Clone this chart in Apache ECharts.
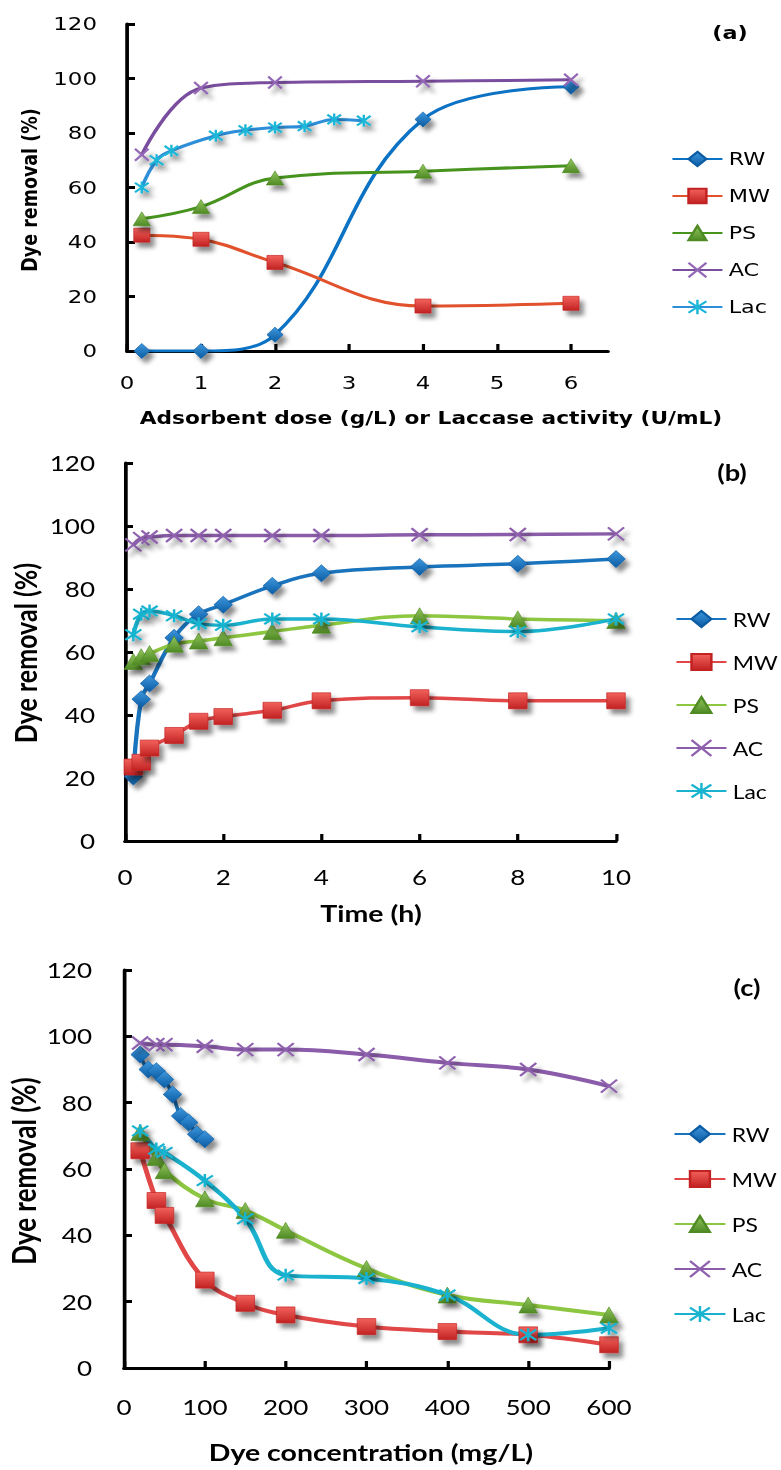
<!DOCTYPE html>
<html><head><meta charset="utf-8">
<script src="https://cdn.jsdelivr.net/npm/echarts@6/dist/echarts.min.js"></script>
<style>
html,body{margin:0;padding:0;background:#fff;overflow:hidden;width:781px;height:1470px;}
.p{position:absolute;left:0;transform-origin:0 0;}
</style></head><body>
<div id="pa" class="p"></div><div id="pb" class="p"></div><div id="pc" class="p"></div>
<script>
// ---------- data ----------
const seriesNames = ['RW', 'MW', 'PS', 'AC', 'Lac'];

// (a) adsorbent dose (g/L) or laccase activity (U/mL)
const doseX   = [0.2, 1, 2, 4, 6];
const doseRW  = [0, 0, 6, 85, 97];
const doseMW  = [42.5, 41, 32.5, 16.5, 17.5];
const dosePS  = [48.5, 53, 63.5, 66, 68];
const doseAC  = [72, 96.5, 98.5, 99, 99.5];
const activityX = [0.2, 0.4, 0.6, 1.2, 1.6, 2, 2.4, 2.8, 3.2];
const doseLac = [60, 70, 73.5, 79, 81, 82, 82.5, 85, 84.5];
const doseTicks = [0, 1, 2, 3, 4, 5, 6];

// (b) time (h)
const timeX   = [0.17, 0.33, 0.5, 1, 1.5, 2, 3, 4, 6, 8, 10];
const timeRW  = [20.5, 45, 50, 64.5, 72, 75, 81, 85, 87, 88, 89.5];
const timeMW  = [23.5, 25, 29.5, 33.5, 38, 39.5, 41.5, 44.5, 45.5, 44.5, 44.5];
const timePS  = [57, 58.5, 59.5, 62.5, 63.5, 64.5, 66.5, 68.5, 71.5, 70.5, 70];
const timeAC  = [94, 96, 96.5, 97, 97, 97, 97, 97, 97.2, 97.3, 97.5];
const timeLac = [65.5, 72, 73, 71.5, 69, 68.5, 70.5, 70.5, 68, 66.5, 70.5];
const timeTicks = [0, 2, 4, 6, 8, 10];

// (c) dye concentration (mg/L)
const concX   = [20, 40, 50, 100, 150, 200, 300, 400, 500, 600];
const concRWX = [20, 30, 40, 50, 60, 70, 80, 90, 100];
const concRW  = [94.5, 90, 89.5, 87, 82.5, 76, 74, 70.5, 69];
const concMW  = [65.5, 50.5, 46, 26.5, 19.5, 16, 12.5, 11, 10, 7];
const concPS  = [71, 63.5, 59.5, 51, 47.5, 41.5, 30, 22, 19, 16];
const concAC  = [98, 97.5, 97.5, 97, 96, 96, 94.5, 92, 90, 85];
const concLac = [71.5, 66, 65, 56.5, 45, 28, 27, 22, 10, 12];
const concTicks = [0, 100, 200, 300, 400, 500, 600];

const removalTicks = [0, 20, 40, 60, 80, 100, 120];

// ---------- styling ----------
const S = 1.24;               // the original figure is stretched horizontally
const sx = v => v / S;
const XSYM = 'path://M0,0L10,10M10,0L0,10';
const ASTSYM = 'path://M1,1L9,9M9,1L1,9M5,0L5,10';

const palA = {
  RW:  {line:'#0B72C4', f1:'#3E97DD', f2:'#0B5CA3', sym:'diamond'},
  MW:  {line:'#E0512C', f1:'#F2625C', f2:'#C22222', sym:'rect'},
  PS:  {line:'#46931D', f1:'#93C65E', f2:'#4F8A24', sym:'triangle'},
  AC:  {line:'#7A4E9E', f1:'#9468B6', sym:XSYM},
  Lac: {line:'#2E8FD8', f1:'#1CB7D8', sym:ASTSYM}
};
const palBC = {
  RW:  {line:'#1A74BD', f1:'#3E97DD', f2:'#0B5CA3', sym:'diamond'},
  MW:  {line:'#E14747', f1:'#F2625C', f2:'#C22222', sym:'rect'},
  PS:  {line:'#8DC640', f1:'#93C65E', f2:'#4F8A24', sym:'triangle'},
  AC:  {line:'#8A5CA9', f1:'#8E60AD', sym:XSYM},
  Lac: {line:'#1AB2CE', f1:'#19B4D0', sym:ASTSYM}
};

function mkSeries(name, xs, ys, p, lw, msize) {
  const stroke = p.sym.indexOf('path://') === 0;
  const itemStyle = stroke
    ? {color:p.f1, borderColor:p.f1, borderWidth:2}
    : {color:new echarts.graphic.LinearGradient(0,0,0,1,[{offset:0,color:p.f1},{offset:1,color:p.f2}]),
       borderColor:p.f2, borderWidth:0.6};
  itemStyle.shadowBlur = 4;
  itemStyle.shadowOffsetX = 3.5;
  itemStyle.shadowOffsetY = 5;
  itemStyle.shadowColor = 'rgba(0,0,0,0.45)';
  return {
    name, type:'line', smooth:0.4, showSymbol:true, showAllSymbol:true,
    symbol:p.sym, symbolSize: stroke ? [msize[0]-2, msize[1]-3] : msize,
    lineStyle:{color:p.line, width:lw},
    itemStyle,
    data: xs.map((x,i)=>[x, ys[i]])
  };
}

function build(cfg) {
  const g = cfg.grid;
  return {
    animation:false,
    grid:{left:sx(g.l), top:g.t, width:sx(g.r-g.l), height:g.b-g.t},
    xAxis:{type:'value', min:cfg.xmin, max:cfg.xmax, interval:cfg.xint,
      axisLine:{onZero:false, lineStyle:{color:'#000', width:3}},
      axisTick:{inside:true, length:7, lineStyle:{color:'#000', width:2.6}, customValues:cfg.xticks},
      axisLabel:{customValues:cfg.xticks, margin:cfg.xmargin, color:'#000', fontFamily:cfg.font, fontSize:cfg.tickSize},
      splitLine:{show:false}},
    yAxis:{type:'value', min:0, max:120, interval:20,
      axisLine:{show:true, lineStyle:{color:'#000', width:3}},
      axisTick:{show:true, inside:true, length:sx(8), lineStyle:{color:'#000', width:3}, customValues:removalTicks},
      axisLabel:{customValues:removalTicks, margin:cfg.ymargin, color:'#000', fontFamily:cfg.font, fontSize:cfg.tickSize},
      splitLine:{show:false}},
    legend:{orient:'vertical', left:sx(cfg.leg.x), top:cfg.leg.top, itemWidth:sx(cfg.leg.w),
      itemHeight:cfg.leg.h, itemGap:cfg.leg.gap, selectedMode:false, data:seriesNames,
      textStyle:{color:'#000', fontFamily:cfg.font, fontSize:cfg.leg.fs, lineHeight:cfg.leg.h}},
    graphic:[
      {type:'text', x:sx(cfg.yt.x), y:cfg.yt.y, rotation:Math.PI/2,
       style:{text:'Dye removal (%)', x:0, y:0, align:'center', verticalAlign:'middle',
              fontFamily:cfg.font, fontWeight:'bold', fontSize:cfg.yt.fs, fill:'#000'}},
      {type:'text', x:sx(cfg.xt.x), y:cfg.xt.y,
       style:{text:cfg.xt.text, x:0, y:0, align:'center', verticalAlign:'middle',
              fontFamily:cfg.font, fontWeight:'bold', fontSize:cfg.xt.fs, fill:'#000'}},
      {type:'text', x:sx(cfg.lab.x), y:cfg.lab.y,
       style:{text:cfg.lab.text, x:0, y:0, align:'center', verticalAlign:'middle',
              fontFamily:cfg.font, fontWeight:'bold', fontSize:cfg.lab.fs, fill:'#000'}}
    ],
    series:cfg.series
  };
}

function mount(id, top, height, option) {
  const el = document.getElementById(id);
  el.style.top = top + 'px';
  el.style.width = (781 / S) + 'px';
  el.style.height = height + 'px';
  el.style.transform = 'scaleX(' + S + ')';
  const ch = echarts.init(el, null, {renderer:'svg'});
  ch.setOption(option);
}

const fontA = '"DejaVu Sans"';
const fontBC = 'Lato';

mount('pa', 0, 440, build({
  font:fontA, tickSize:18.5, xmargin:22, ymargin:sx(30),
  grid:{l:127, r:608, t:24, b:351},
  xmin:0, xmax:6.5, xint:1, xticks:doseTicks,
  leg:{x:665, top:145, w:50, h:18, gap:19, fs:18},
  yt:{x:30, y:190, fs:17.5},
  xt:{x:431, y:418, fs:17.5, text:'Adsorbent dose (g/L) or Laccase activity (U/mL)'},
  lab:{x:730, y:33, fs:18, text:'(a)'},
  series:[
    mkSeries('RW', doseX, doseRW, palA.RW, 3, [13,15]),
    mkSeries('MW', doseX, doseMW, palA.MW, 3, [13,14]),
    mkSeries('PS', doseX, dosePS, palA.PS, 3, [14,14]),
    mkSeries('AC', doseX, doseAC, palA.AC, 3, [13,15]),
    mkSeries('Lac', activityX, doseLac, palA.Lac, 3, [13,15])
  ]
}));

mount('pb', 440, 495, build({
  font:fontBC, tickSize:21, xmargin:26, ymargin:sx(30),
  grid:{l:125, r:616, t:23, b:401},
  xmin:0, xmax:10, xint:2, xticks:timeTicks,
  leg:{x:669, top:164, w:50, h:20, gap:23, fs:18.5},
  yt:{x:25, y:213, fs:25},
  xt:{x:371, y:473, fs:23, text:'Time (h)'},
  lab:{x:732, y:33, fs:22, text:'(b)'},
  series:[
    mkSeries('RW', timeX, timeRW, palBC.RW, 3.5, [15,17]),
    mkSeries('MW', timeX, timeMW, palBC.MW, 3.5, [15,16]),
    mkSeries('PS', timeX, timePS, palBC.PS, 3.5, [15,16]),
    mkSeries('AC', timeX, timeAC, palBC.AC, 3.5, [15,16]),
    mkSeries('Lac', timeX, timeLac, palBC.Lac, 3.5, [15,16])
  ]
}));

mount('pc', 935, 535, build({
  font:fontBC, tickSize:21, xmargin:29, ymargin:sx(32),
  grid:{l:124, r:609, t:35, b:433},
  xmin:0, xmax:600, xint:100, xticks:concTicks,
  leg:{x:667, top:184, w:51, h:20, gap:25, fs:18.5},
  yt:{x:23, y:236, fs:26},
  xt:{x:371, y:517, fs:23, text:'Dye concentration (mg/L)'},
  lab:{x:747, y:53, fs:22, text:'(c)'},
  series:[
    mkSeries('RW', concRWX, concRW, palBC.RW, 3, [15,17]),
    mkSeries('MW', concX, concMW, palBC.MW, 4, [15,16]),
    mkSeries('PS', concX, concPS, palBC.PS, 4, [15,16]),
    mkSeries('AC', concX, concAC, palBC.AC, 4, [15,16]),
    mkSeries('Lac', concX, concLac, palBC.Lac, 4, [15,16])
  ]
}));
</script></body></html>
